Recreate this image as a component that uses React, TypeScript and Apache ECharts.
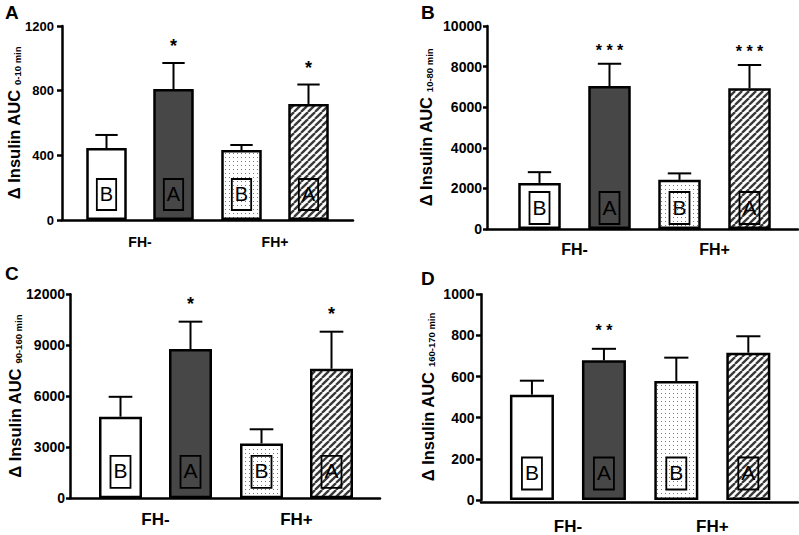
import React, { useEffect, useRef } from 'react';
import * as echarts from 'echarts';

const FONT = '"Liberation Sans", Arial, Helvetica, sans-serif';

// ---------- data ----------
const categories = ['FH-', 'FH+'];
const groupNames = ['B', 'A'];
const panelLetters = ['A', 'B', 'C', 'D'];
const nameMain = 'Δ Insulin AUC';
const nameSubs = ['0-10 min', '10-80 min', '90-160 min', '160-170 min'];
const yMax = [1200, 10000, 12000, 1000];
const yStep = [400, 2000, 3000, 200];

// tick labels
const aTicks = [0, 400, 800, 1200];
const bTicks = [0, 2000, 4000, 6000, 8000, 10000];
const cTicks = [0, 3000, 6000, 9000, 12000];
const dTicks = [0, 200, 400, 600, 800, 1000];

// Panel A (0-10 min)
const aMeanB = [445, 433];
const aSemB = [81, 31];
const aMeanA = [810, 718];
const aSemA = [161, 120];
const aStarsA = ['*', '*'];
// Panel B (10-80 min)
const bMeanB = [2270, 2420];
const bSemB = [530, 320];
const bMeanA = [7040, 6930];
const bSemA = [1100, 1150];
const bStarsA = ['* * *', '* * *'];
// Panel C (90-160 min)
const cMeanB = [4800, 3230];
const cSemB = [1170, 830];
const cMeanA = [8780, 7620];
const cSemA = [1610, 2180];
const cStarsA = ['*', '*'];
// Panel D (160-170 min)
const dMeanB = [512, 578];
const dSemB = [68, 114];
const dMeanA = [679, 716];
const dSemA = [56, 80];
const dStarsA = ['* *', ''];

const panels = [
  { meanB: aMeanB, semB: aSemB, meanA: aMeanA, semA: aSemA, stars: aStarsA, ticks: aTicks },
  { meanB: bMeanB, semB: bSemB, meanA: bMeanA, semA: bSemA, stars: bStarsA, ticks: bTicks },
  { meanB: cMeanB, semB: cSemB, meanA: cMeanA, semA: cSemA, stars: cStarsA, ticks: cTicks },
  { meanB: dMeanB, semB: dSemB, meanA: dMeanA, semA: dSemA, stars: dStarsA, ticks: dTicks },
];

// ---------- layout ----------
const layouts = [
  { axisX: 62, lineEnd: 353, top: 26, bottom: 220, gridL: 72.5, gridW: 270, barOuter: 43, pitch: 67, tickFont: 13, tickMargin: 8, tickLen: 5, nameFont: 16.5, subFont: 9.5, nameGap: 40, catFont: 14, catMargin: 15, boxFont: 20, boxDist: 10, starFont: 18, starGap: 17, letterX: 5, letterY: 3 },
  { axisX: 487, lineEnd: 798, top: 26, bottom: 229, gridL: 504.5, gridW: 280, barOuter: 45, pitch: 70, tickFont: 14, tickMargin: 5, tickLen: 4, nameFont: 16.5, subFont: 9.5, nameGap: 53, catFont: 16, catMargin: 12, boxFont: 21, boxDist: 5, starFont: 16, starGap: 13, letterX: 421, letterY: 3 },
  { axisX: 70, lineEnd: 380, top: 294.3, bottom: 498.3, gridL: 85, gridW: 282, barOuter: 45.5, pitch: 70, tickFont: 14, tickMargin: 5, tickLen: 4, nameFont: 16.5, subFont: 9.5, nameGap: 47, catFont: 17, catMargin: 13, boxFont: 21, boxDist: 10.5, starFont: 18, starGap: 18, letterX: 5, letterY: 264 },
  { axisX: 481, lineEnd: 798, top: 294.3, bottom: 502.5, gridL: 495.75, gridW: 288.75, barOuter: 46.5, pitch: 72, tickFont: 14, tickMargin: 6.5, tickLen: 5, nameFont: 16.5, subFont: 9.5, nameGap: 45, catFont: 17, catMargin: 18, boxFont: 21, boxDist: 10.5, starFont: 16, starGap: 18, letterX: 421, letterY: 269 },
];

const W = 799;
const H = 535;
const BORDER = 2.5;
const DARK = '#474747';

function makeDots() {
  const s = 4;
  const c = document.createElement('canvas');
  c.width = s;
  c.height = s;
  const ctx = c.getContext('2d')!;
  ctx.fillStyle = '#ffffff';
  ctx.fillRect(0, 0, s, s);
  ctx.fillStyle = '#777777';
  ctx.fillRect(1, 1, 1, 1);
  return { image: c.toDataURL(), repeat: 'repeat', imageWidth: s, imageHeight: s };
}

function makeHatch() {
  const s = 7;
  const c = document.createElement('canvas');
  c.width = s;
  c.height = s;
  const ctx = c.getContext('2d')!;
  ctx.fillStyle = '#ffffff';
  ctx.fillRect(0, 0, s, s);
  ctx.strokeStyle = '#383838';
  ctx.lineWidth = 2.3;
  for (const x0 of [-s, 0, s]) {
    ctx.beginPath();
    ctx.moveTo(x0, s);
    ctx.lineTo(x0 + s, 0);
    ctx.stroke();
  }
  return { image: c.toDataURL(), repeat: 'repeat', imageWidth: s, imageHeight: s };
}

function buildOption() {
  const dots = makeDots();
  const hatch = makeHatch();
  const grid: any[] = [];
  const xAxis: any[] = [];
  const yAxis: any[] = [];
  const series: any[] = [];
  const graphic: any[] = [];

  layouts.forEach((l, i) => {
    const p = panels[i];
    const height = l.bottom - l.top;
    // grid 2i: bars + visible y axis (offset to the left); grid 2i+1: long x-axis line
    grid.push({ left: l.gridL, width: l.gridW, top: l.top, height });
    grid.push({ left: l.axisX, width: l.lineEnd - l.axisX, top: l.top, height });

    xAxis.push({
      gridIndex: 2 * i,
      type: 'category',
      data: categories,
      axisLine: { show: false },
      axisTick: { show: false },
      axisLabel: {
        margin: l.catMargin,
        color: '#000',
        fontWeight: 'bold',
        fontSize: l.catFont,
        fontFamily: FONT,
      },
    });
    xAxis.push({
      gridIndex: 2 * i + 1,
      type: 'value',
      min: 0,
      max: 1,
      axisLine: { show: true, lineStyle: { color: '#000', width: BORDER } },
      axisTick: { show: false },
      axisLabel: { show: false },
      splitLine: { show: false },
    });

    yAxis.push({
      gridIndex: 2 * i,
      type: 'value',
      min: 0,
      max: yMax[i],
      interval: yStep[i],
      offset: l.gridL - l.axisX,
      axisLine: { show: true, lineStyle: { color: '#000', width: BORDER } },
      axisTick: { show: true, inside: false, length: l.tickLen, lineStyle: { color: '#000', width: BORDER } },
      axisLabel: { show: false },
      splitLine: { show: false },
      name: `{a|${nameMain} }{b|${nameSubs[i]}}`,
      nameLocation: 'middle',
      nameGap: l.nameGap,
      nameTextStyle: {
        rich: {
          a: { fontSize: l.nameFont, fontWeight: 'bold', fontFamily: FONT, color: '#000', lineHeight: 19, verticalAlign: 'bottom' },
          b: { fontSize: l.subFont, fontWeight: 'bold', fontFamily: FONT, color: '#000', lineHeight: 11, verticalAlign: 'bottom' },
        },
      },
    });
    yAxis.push({
      gridIndex: 2 * i + 1,
      type: 'value',
      min: 0,
      max: 1,
      show: false,
    });

    // y tick labels, placed on the y scale
    series.push({
      type: 'custom',
      xAxisIndex: 2 * i,
      yAxisIndex: 2 * i,
      z: 4,
      silent: true,
      encode: { x: 0, y: 1 },
      data: p.ticks.map((t) => [0, t]),
      renderItem: (params: any, api: any) => {
        const v = api.value(1);
        const pt = api.coord([0, v]);
        return {
          type: 'text',
          x: l.axisX - l.tickMargin,
          y: pt[1],
          style: {
            text: String(v),
            fill: '#000',
            font: `bold ${l.tickFont}px ${FONT}`,
            align: 'right',
            verticalAlign: 'middle',
          },
        };
      },
    });

    const bw = l.barOuter - BORDER;
    const gapPct = ((l.pitch - bw) / bw) * 100;
    const groups = [
      { name: groupNames[0], mean: p.meanB, sem: p.semB, stars: ['', ''], fills: ['#ffffff', dots], offset: -l.pitch / 2 },
      { name: groupNames[1], mean: p.meanA, sem: p.semA, stars: p.stars, fills: [DARK, hatch], offset: l.pitch / 2 },
    ];

    groups.forEach((g) => {
      series.push({
        type: 'bar',
        name: g.name,
        xAxisIndex: 2 * i,
        yAxisIndex: 2 * i,
        barWidth: bw,
        barGap: `${gapPct}%`,
        z: 2,
        data: g.mean.map((v, k) => ({
          value: v,
          itemStyle: { color: g.fills[k], borderColor: '#000', borderWidth: BORDER },
        })),
        label: {
          show: true,
          position: 'insideBottom',
          distance: l.boxDist,
          formatter: g.name,
          color: '#000',
          fontFamily: FONT,
          fontSize: l.boxFont,
          lineHeight: l.boxFont + 9,
          padding: [0, 3, 2, 3],
          borderColor: '#000',
          borderWidth: 1.8,
        },
        emphasis: { disabled: true },
      });

      series.push({
        type: 'custom',
        xAxisIndex: 2 * i,
        yAxisIndex: 2 * i,
        z: 3,
        encode: { x: 0, y: 1 },
        data: g.mean.map((v, k) => [k, v, g.sem[k]]),
        renderItem: (params: any, api: any) => {
          const cat = api.value(0);
          const mean = api.value(1);
          const sem = api.value(2);
          const base = api.coord([cat, mean]);
          const top = api.coord([cat, mean + sem]);
          const x = base[0] + g.offset;
          const cap = l.barOuter * 0.52;
          const children: any[] = [
            { type: 'line', shape: { x1: x, y1: base[1], x2: x, y2: top[1] }, style: { stroke: '#000', lineWidth: 2 } },
            { type: 'line', shape: { x1: x - cap / 2, y1: top[1], x2: x + cap / 2, y2: top[1] }, style: { stroke: '#000', lineWidth: 2 } },
          ];
          const star = g.stars[params.dataIndex];
          if (star) {
            children.push({
              type: 'text',
              x,
              y: top[1] - l.starGap,
              style: {
                text: star,
                fill: '#000',
                font: `bold ${l.starFont}px ${FONT}`,
                align: 'center',
                verticalAlign: 'middle',
              },
            });
          }
          return { type: 'group', children };
        },
      });
    });

    graphic.push({
      type: 'text',
      left: l.letterX,
      top: l.letterY,
      style: { text: panelLetters[i], font: `bold 19px ${FONT}`, fill: '#000' },
    });
  });

  return {
    animation: false,
    backgroundColor: '#ffffff',
    grid,
    xAxis,
    yAxis,
    series,
    graphic,
  };
}

export default function App() {
  const ref = useRef<HTMLDivElement>(null);
  useEffect(() => {
    if (!ref.current) return;
    const chart = echarts.init(ref.current, undefined, { renderer: 'svg', width: W, height: H });
    chart.setOption(buildOption() as any);
    return () => chart.dispose();
  }, []);
  return (
    <div
      ref={ref}
      style={{ position: 'fixed', left: 0, top: 0, width: W, height: H, background: '#fff' }}
    />
  );
}
